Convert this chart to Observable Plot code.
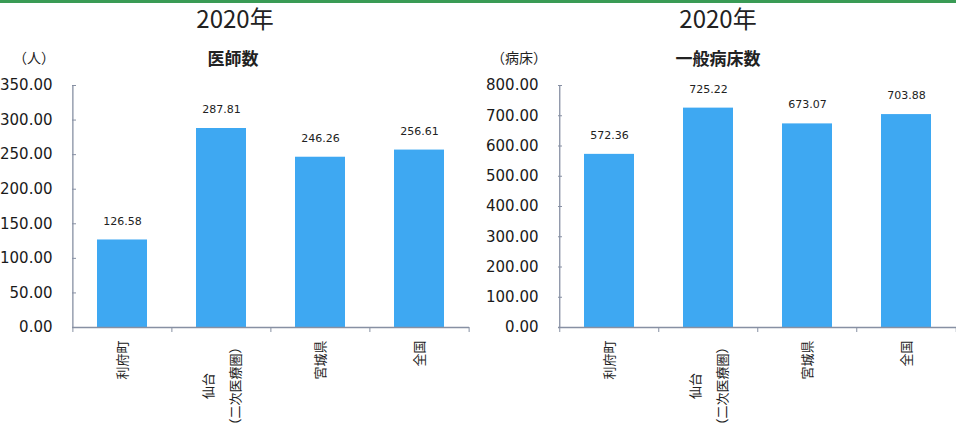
<!DOCTYPE html>
<html><head><meta charset="utf-8">
<script src="https://cdn.jsdelivr.net/npm/d3@7"></script>
<script src="https://cdn.jsdelivr.net/npm/@observablehq/plot@0.6"></script>
<style>
body{margin:0;background:#fff;width:956px;height:434px;overflow:hidden;position:relative;font-family:"Noto Sans CJK JP",sans-serif;color:#222}
.green{position:absolute;left:0;top:0;width:956px;height:3px;background:#3a9b55}
.t{position:absolute;transform:translate(-50%,-50%);white-space:nowrap;line-height:1}
.title{font-size:24px;font-weight:400}
.sub{font-size:17px;font-weight:700}
.unit{font-size:14px}
.chart{position:absolute;top:70px}
</style></head>
<body>
<div class="green"></div>
<div id="root"></div>
<script>
const categories = ["利府町", "仙台（二次医療圏）", "宮城県", "全国"];
const labelLine1 = ["利府町", "仙台", "宮城県", "全国"];
const labelLine2 = ["", "（二次医療圏）", "", ""];
const doctors = [126.58, 287.81, 246.26, 256.61];
const beds = [572.36, 725.22, 673.07, 703.88];
const doctorTicks = [0, 50, 100, 150, 200, 250, 300, 350];
const bedTicks = [0, 100, 200, 300, 400, 500, 600, 700, 800];
const titles = ["2020年", "2020年"];
const subtitles = ["医師数", "一般病床数"];
const units = ["（人）", "（病床）"];

const barColor = "#3ea8f2";
const axisColor = "#8790a3";
const root = document.getElementById("root");

function addText(cls, text, x, y) {
  const d = document.createElement("div");
  d.className = "t " + cls;
  d.textContent = text;
  d.style.left = x + "px";
  d.style.top = y + "px";
  document.body.appendChild(d);
}

function makeChart({values, ticks, yMax, left, width, marginLeft, marginRight}) {
  const data = categories.map((c, i) => ({cat: c, v: values[i], l1: labelLine1[i], l2: labelLine2[i]}));
  const single = data.filter(d => !d.l2);
  const multi = data.filter(d => d.l2);
  const step = (width - marginLeft - marginRight) / categories.length;
  const fs = 13;
  const maxL2 = d3.max(multi, d => d.l2.length) || 0;
  const svg = Plot.plot({
    width, height: 364,
    marginLeft, marginRight, marginTop: 15, marginBottom: 107,
    style: {background: "transparent", overflow: "visible"},
    x: {type: "band", domain: categories, paddingInner: 0.5, paddingOuter: 0.25, axis: null},
    y: {domain: [0, yMax], axis: null},
    marks: [
      Plot.barY(data, {x: "cat", y: "v", fill: barColor}),
      Plot.text(data, {x: "cat", y: "v", text: d => d.v.toFixed(2), dy: -19, fontSize: 11, fontFamily: "DejaVu Sans", fill: "#222"}),
      Plot.axisY(ticks, {tickFormat: d3.format(".2f"), tickSize: -4, tickPadding: 24, fontSize: 15, fontFamily: "DejaVu Sans", fill: "#1a1a1a", stroke: axisColor, label: null}),
      Plot.ruleX([categories[0]], {dx: -step / 2, stroke: axisColor, strokeWidth: 1.3}),
      Plot.ruleY([0], {stroke: axisColor, strokeWidth: 1.3}),
      Plot.ruleX(categories, {x: d => d, y1: () => 0, y2: () => 0, dx: -step / 2, insetBottom: -5, stroke: axisColor}),
      Plot.ruleX([categories[categories.length - 1]], {x: d => d, y1: () => 0, y2: () => 0, dx: step / 2, insetBottom: -5, stroke: axisColor}),
      Plot.text(single, {x: "cat", y: () => 0, text: "l1", rotate: -90, textAnchor: "end", lineAnchor: "middle", dy: 13, fontSize: fs, fontFamily: "Noto Sans CJK JP", fill: "#222"}),
      Plot.text(multi, {x: "cat", y: () => 0, text: "l2", rotate: -90, textAnchor: "end", lineAnchor: "middle", dy: 13, dx: 14, fontSize: fs, fontFamily: "Noto Sans CJK JP", fill: "#222"}),
      Plot.text(multi, {x: "cat", y: () => 0, text: "l1", rotate: -90, textAnchor: "middle", lineAnchor: "middle", dy: 13 + maxL2 * fs / 2, dx: -13, fontSize: fs, fontFamily: "Noto Sans CJK JP", fill: "#222"})
    ]
  });
  svg.classList.add("chart");
  svg.style.left = left + "px";
  root.appendChild(svg);
}

makeChart({values: doctors, ticks: doctorTicks, yMax: 350, left: 0, width: 476, marginLeft: 72, marginRight: 7});
makeChart({values: beds, ticks: bedTicks, yMax: 800, left: 476, width: 480, marginLeft: 82, marginRight: 0});

addText("title", titles[0], 235, 18);
addText("title", titles[1], 718, 18);
addText("sub", subtitles[0], 233, 57);
addText("sub", subtitles[1], 718, 57);
addText("unit", units[0], 34, 57);
addText("unit", units[1], 519, 57);
</script>
</body></html>
